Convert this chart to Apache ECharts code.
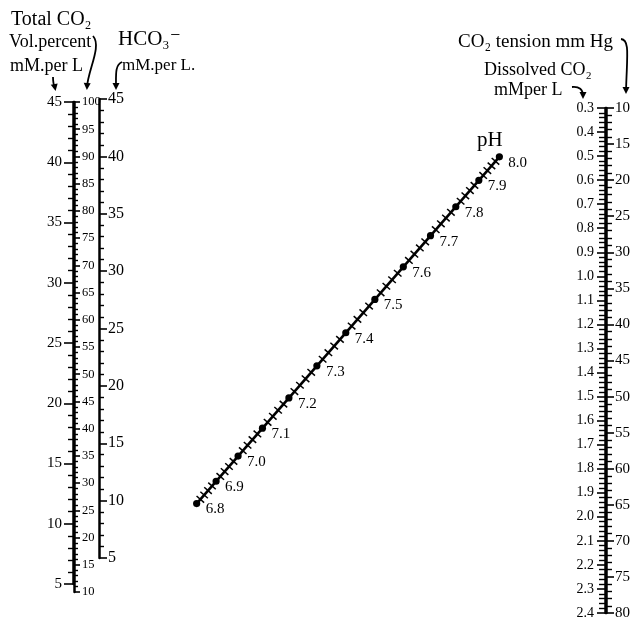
<!DOCTYPE html>
<html>
<head>
<meta charset="utf-8">
<script src="https://cdn.jsdelivr.net/npm/echarts@6/dist/echarts.min.js"></script>
<style>
  html, body { margin: 0; padding: 0; background: #fff; }
  #chart { width: 637px; height: 621px; }
</style>
</head>
<body>
<div id="chart"></div>
<script>
// tick labels
const mMTicks = [5, 10, 15, 20, 25, 30, 35, 40, 45]
const volTicks = [10, 15, 20, 25, 30, 35, 40, 45, 50, 55, 60, 65, 70, 75, 80, 85, 90, 95, 100]
const hco3Ticks = [5, 10, 15, 20, 25, 30, 35, 40, 45]
const dissolvedTicks = [0.3, 0.4, 0.5, 0.6, 0.7, 0.8, 0.9, 1.0, 1.1, 1.2, 1.3, 1.4, 1.5, 1.6, 1.7, 1.8, 1.9, 2.0, 2.1, 2.2, 2.3, 2.4]
const tensionTicks = [10, 15, 20, 25, 30, 35, 40, 45, 50, 55, 60, 65, 70, 75, 80]
const pHTicks = [6.8, 6.9, 7.0, 7.1, 7.2, 7.3, 7.4, 7.5, 7.6, 7.7, 7.8, 7.9, 8.0]

const FONT = '"Liberation Serif", "DejaVu Serif", serif'
const INK = '#000'

const chart = echarts.init(document.getElementById('chart'))

function scaleAxis (ticks, grid, position, o) {
  return {
    type: 'value',
    gridIndex: grid,
    position: position,
    inverse: !!o.inverse,
    min: ticks[0],
    max: ticks[ticks.length - 1],
    interval: +(ticks[1] - ticks[0]).toFixed(4),
    axisLine: { show: true, onZero: false, lineStyle: { color: INK, width: 2.5 } },
    axisTick: { show: true, length: o.tick, lineStyle: { color: INK, width: 1.6 } },
    minorTick: { show: true, splitNumber: o.split || 5, length: o.minor, lineStyle: { color: INK, width: 1.4 } },
    axisLabel: {
      margin: o.margin, color: INK, fontSize: o.size, fontFamily: FONT,
      showMinLabel: true, showMaxLabel: true,
      formatter: o.fmt
    },
    splitLine: { show: false },
    minorSplitLine: { show: false }
  }
}

function hiddenX (grid) {
  return { type: 'value', gridIndex: grid, min: 0, max: 1, show: false }
}

function txt (text, x, y, size, extra) {
  return {
    type: 'text', x: x, y: y, silent: true,
    style: Object.assign({ text: text, fill: INK, fontSize: size, fontFamily: FONT }, extra || {})
  }
}

// curved pointer from a caption down to its scale, with a filled head
function arrow (c, dir) {
  const tx = c.x2, ty = c.y2
  const [dx, dy] = dir
  const px = -dy, py = dx
  const tip = [tx + dx * 3, ty + dy * 3]
  const b = [tip[0] - dx * 7, tip[1] - dy * 7]
  return [
    { type: 'bezierCurve', silent: true, shape: c, style: { fill: 'none', stroke: INK, lineWidth: 1.8 } },
    { type: 'polygon', silent: true,
      shape: { points: [tip, [b[0] + px * 3.5, b[1] + py * 3.5], [b[0] - px * 3.5, b[1] - py * 3.5]] },
      style: { fill: INK } }
  ]
}

const option = {
  backgroundColor: '#fff',
  animation: false,
  grid: [
    { left: 73, top: 102, width: 1, height: 482, outerBoundsMode: 'none' },
    { left: 73, top: 102, width: 1, height: 490, outerBoundsMode: 'none' },
    { left: 98, top: 99, width: 1, height: 459, outerBoundsMode: 'none' },
    { left: 605, top: 108, width: 1, height: 505, outerBoundsMode: 'none' }
  ],
  xAxis: [hiddenX(0), hiddenX(1), hiddenX(2), hiddenX(3)],
  yAxis: [
    scaleAxis(mMTicks, 0, 'left', { tick: 9, minor: 5, margin: 11, size: 15 }),
    scaleAxis(volTicks, 1, 'right', { tick: 6, minor: 4, margin: 8, size: 12.5 }),
    scaleAxis(hco3Ticks, 2, 'right', { tick: 8, minor: 5, margin: 9, size: 16 }),
    scaleAxis(dissolvedTicks, 3, 'left', { tick: 8, minor: 6, margin: 11, size: 14, inverse: true, fmt: v => (+v).toFixed(1) }),
    scaleAxis(tensionTicks, 3, 'right', { tick: 8, minor: 6, margin: 9, size: 15, inverse: true })
  ],
  graphic: [
    txt('Total CO₂', 11, 10, 20),
    txt('Vol.percent', 9, 33, 18),
    txt('mM.per L', 10, 57, 18),
    txt('HCO₃⁻', 118, 29, 21),
    txt('mM.per L.', 122, 57, 17),
    txt('CO₂ tension mm Hg', 458, 33, 19),
    txt('Dissolved CO₂', 484, 61, 18),
    txt('mMper L', 494, 81, 18),
    txt('pH', 477, 130, 21)
  ].concat(
    arrow({ x1: 53, y1: 77, cpx1: 53, cpy1: 84, x2: 55, y2: 88 }, [0.2, 0.98]),
    arrow({ x1: 93, y1: 36, cpx1: 102, cpy1: 46, cpx2: 88, cpy2: 70, x2: 87, y2: 87 }, [-0.05, 1]),
    arrow({ x1: 122, y1: 62, cpx1: 115, cpy1: 65, cpx2: 116, cpy2: 74, x2: 116, y2: 87 }, [0, 1]),
    arrow({ x1: 621, y1: 39, cpx1: 630, cpy1: 40, cpx2: 627, cpy2: 55, x2: 626, y2: 91 }, [0, 1]),
    arrow({ x1: 572, y1: 87, cpx1: 583, cpy1: 86, x2: 583, y2: 96 }, [0, 1])
  ),
  series: []
}

chart.setOption(option)

// pH scale: each pH is where the isopleths HCO3 / dissolved CO2 = 10^(pH - 6.1) meet,
// located through the HCO3 axis (yAxis 2) and the dissolved CO2 axis (yAxis 3)
const xH = chart.convertToPixel({ xAxisIndex: 2 }, 1)
const xD = chart.convertToPixel({ xAxisIndex: 3 }, 0)

function phPoint (pH) {
  const r = Math.pow(10, pH - 6.1)
  const seg = h => [[xH, chart.convertToPixel({ yAxisIndex: 2 }, h)], [xD, chart.convertToPixel({ yAxisIndex: 3 }, h / r)]]
  const [p1, p2] = seg(10)
  const [p3, p4] = seg(40)
  const d1 = [p2[0] - p1[0], p2[1] - p1[1]]
  const d2 = [p4[0] - p3[0], p4[1] - p3[1]]
  const den = d1[0] * d2[1] - d1[1] * d2[0]
  const t = ((p3[0] - p1[0]) * d2[1] - (p3[1] - p1[1]) * d2[0]) / den
  return [p1[0] + t * d1[0], p1[1] + t * d1[1]]
}

const pStart = phPoint(pHTicks[0])
const pEnd = phPoint(pHTicks[pHTicks.length - 1])
const len = Math.hypot(pEnd[0] - pStart[0], pEnd[1] - pStart[1])
const nrm = [-(pEnd[1] - pStart[1]) / len, (pEnd[0] - pStart[0]) / len]

// major ticks with 5 subdivisions between them
const pHData = []
pHTicks.forEach((v, i) => {
  pHData.push([v, 1])
  if (i < pHTicks.length - 1) {
    const step = (pHTicks[i + 1] - v) / 5
    for (let k = 1; k < 5; k++) pHData.push([+(v + step * k).toFixed(3), 0])
  }
})

chart.setOption({
  series: [
    {
      type: 'custom',
      name: 'pH line',
      coordinateSystem: 'none',
      silent: true,
      data: [[pHTicks[0], pHTicks[pHTicks.length - 1]]],
      renderItem (params, api) {
        const a = phPoint(api.value(0))
        const b = phPoint(api.value(1))
        return { type: 'line', shape: { x1: a[0], y1: a[1], x2: b[0], y2: b[1] }, style: { stroke: INK, lineWidth: 2.6 } }
      }
    },
    {
      type: 'custom',
      name: 'pH',
      coordinateSystem: 'none',
      silent: true,
      data: pHData,
      renderItem (params, api) {
        const v = api.value(0)
        const p = phPoint(v)
        if (api.value(1)) {
          return {
            type: 'group',
            children: [
              { type: 'circle', shape: { cx: p[0], cy: p[1], r: 3.6 }, style: { fill: INK } },
              { type: 'text', style: { text: v.toFixed(1), x: p[0] + 9, y: p[1] + 6, fill: INK, fontSize: 15, fontFamily: FONT, verticalAlign: 'middle' } }
            ]
          }
        }
        return {
          type: 'line',
          shape: { x1: p[0] - nrm[0] * 5, y1: p[1] - nrm[1] * 5, x2: p[0] + nrm[0] * 5, y2: p[1] + nrm[1] * 5 },
          style: { stroke: INK, lineWidth: 1.5 }
        }
      }
    }
  ]
})
</script>
</body>
</html>
